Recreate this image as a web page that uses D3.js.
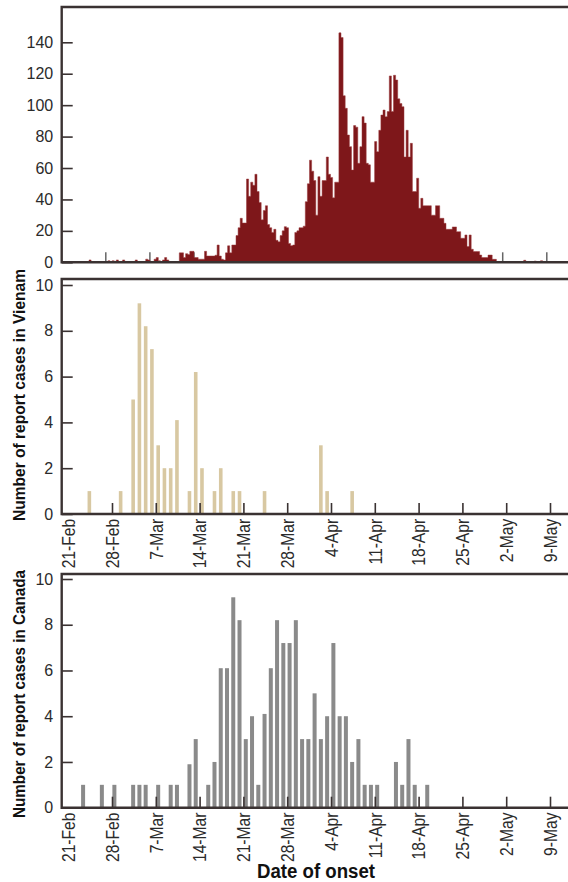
<!DOCTYPE html>
<html>
<head>
<meta charset="utf-8">
<script src="https://cdn.jsdelivr.net/npm/d3@7"></script>
<style>
body{margin:0;background:#fff;}
svg{display:block;}
</style>
</head>
<body>
<div id="visOut"></div>
<script>
// counts for top panel, one value per narrow bin (3 bins per week-tick step of 7)
var topCounts = [
 0,0,0,0,0,0,0,0,0,0,0,0,0,1.5,0,0,0,0,0,0,
 0,0,1,0,1,0,1.5,0,0,1.5,0,0,0,0,0,1.5,0,0,0,0,
 2,1.5,0,0,2,3,1,0,1.5,3,1.5,0,0,0,0,0,6,6,3,5.5,
 5,7,7,3,3,2,2,2,7,4,4,4,4,4.5,11,4,2,1.5,6,10.5,
 6,11,11,17,22,28,25,25,53,42,51,49,56,45,38,27,33,36,24,22,
 19,21,14,13,17,20,22.7,22,12,10.6,11,19,20,22,22,23,38.6,50,65,58,
 52,30,54.5,42,52,52,67,56,54,41,51,51,146,143,106,98,81,73.6,58.7,87,
 86,63,73.6,92.7,88.6,63,62,51,51,76.8,70.4,84,93.7,96.9,92.7,95.9,118.6,96,119,116,
 104,101,99,67,84,67,75.7,45,45,53.5,34.4,40.7,36,36,36,36,30,30,36,36,
 28,28,24.8,21,21,21,22.5,22.5,19.5,19.5,15.3,15.3,17.4,10,17.4,8.3,6.8,6.8,6.8,4.6,
 3,3,3,4.6,4.6,1.9,1.9,0.5,0,0,0,0,0,0,0,0,0,0,0,0,
 1.3,0,0,0,0,0.8,0,0,1,0,0,0,0,0,0,0,0,0,0,0,
 0,0,0
];
var topTicksY = [0,20,40,60,80,100,120,140];

var vnDates = ["24-Feb","1-Mar","3-Mar","4-Mar","5-Mar","6-Mar","7-Mar","8-Mar","9-Mar","10-Mar",
  "12-Mar","13-Mar","14-Mar","16-Mar","17-Mar","19-Mar","20-Mar","24-Mar","2-Apr","3-Apr","7-Apr"];
var vnCases = [1,1,5,9.2,8.2,7.2,3,2,2,4.1,1,6.2,2,1,2,1,1,1,3,1,1];

var caDates = ["23-Feb","26-Feb","28-Feb","3-Mar","4-Mar","5-Mar","7-Mar","9-Mar","10-Mar","12-Mar",
  "13-Mar","15-Mar","16-Mar","17-Mar","18-Mar","19-Mar","20-Mar","21-Mar","22-Mar","23-Mar",
  "24-Mar","25-Mar","26-Mar","27-Mar","28-Mar","29-Mar","30-Mar","31-Mar","1-Apr","2-Apr",
  "3-Apr","4-Apr","5-Apr","6-Apr","7-Apr","8-Apr","9-Apr","10-Apr","11-Apr","14-Apr",
  "15-Apr","16-Apr","17-Apr","19-Apr"];
var caCases = [1,1,1,1,1,1,1,1,1,1.9,3,1,2,6.1,6.1,9.2,8.2,3,4,1,4.1,6.1,8.2,7.2,7.2,8.2,
  3,3,5,3,4,7.2,4,4,2,3,1,1,1,2,1,3,1,1];

var smallTicksY = [0,2,4,6,8,10];
var tickLabels = ["21-Feb","28-Feb","7-Mar","14-Mar","21-Mar","28-Mar","4-Apr","11-Apr",
  "18-Apr","25-Apr","2-May","9-May"];

var parseDay = function(s){ return d3.timeParse("%d-%b-%Y")(s + "-2003"); };

var width = 568, height = 882;
var left = 61.7, right = 574;
var frameCol = "#3a3232", textCol = "#2b2b2b";
var font = "'Liberation Sans', Arial, sans-serif";

var svg = d3.select("#visOut")
    .append("svg")
    .attr("width", width)
    .attr("height", height)
    .attr("xmlns", "http://www.w3.org/2000/svg");

// shared date scale for the two lower panels
var x = d3.scaleTime()
    .domain([parseDay("21-Feb"), parseDay("9-May")])
    .range([68.2, 550]);
var dayW = x(parseDay("22-Feb")) - x(parseDay("21-Feb"));

function frame(top, base){ //box with left, top and bottom edge
    svg.append("path")
        .attr("d", "M" + right + "," + top + "H" + left + "V" + base + "H" + right)
        .attr("fill", "none")
        .attr("stroke", frameCol)
        .attr("stroke-width", 2.4);
}

function yAxis(y, ticks){
    var g = svg.append("g")
        .attr("transform", "translate(" + left + ",0)")
        .call(d3.axisLeft(y).tickValues(ticks).tickSize(-11).tickPadding(8.5));
    g.select(".domain").remove();
    g.selectAll(".tick line").attr("stroke", frameCol).attr("stroke-width", 1.6);
    g.selectAll("text").attr("fill", textCol).style("font-family", font).style("font-size", "16px");
}

function xAxis(base){
    var g = svg.append("g")
        .attr("transform", "translate(0," + base + ")")
        .call(d3.axisBottom(x)
            .tickValues(tickLabels.map(parseDay))
            .tickSize(-11)
            .tickFormat(d3.timeFormat("%-d-%b")));
    g.select(".domain").remove();
    g.selectAll(".tick line")
        .attr("stroke", frameCol)
        .attr("stroke-width", 1.6)
        .attr("opacity", function(d, i){ return i == 0 ? 0 : 1; }); //first one sits on the frame
    g.selectAll("text")
        .attr("x", -5.5)
        .attr("y", 0)
        .attr("dy", "0.35em")
        .attr("transform", "rotate(-90) scale(0.87,1)")
        .style("text-anchor", "end")
        .attr("fill", textCol)
        .style("font-family", font)
        .style("font-size", "18px");
}

function bars(dates, vals, y, col, bw){
    svg.append("g").selectAll("rect")
        .data(vals)
        .enter()
        .append("rect")
        .attr("x", function(d, i){ return x(parseDay(dates[i])) + dayW * 0.38 - bw / 2; })
        .attr("width", bw)
        .attr("y", function(d){ return y(d); })
        .attr("height", function(d){ return y(0) - y(d); })
        .attr("fill", col);
}

// ---- top panel ----
var xTop = d3.scaleLinear().domain([0, 243]).range([left, left + 243 * 2.1]);
var yTop = d3.scaleLinear().domain([0, 140]).range([262.3, 42.3]);

svg.append("g").selectAll("line") //small ticks, hidden behind bars
    .data(d3.range(21, 243, 21))
    .enter()
    .append("line")
    .attr("x1", function(d){ return xTop(d); })
    .attr("x2", function(d){ return xTop(d); })
    .attr("y1", yTop(0))
    .attr("y2", yTop(0) - 10)
    .attr("stroke", "#666")
    .attr("stroke-width", 1.5);

// histogram as one stepped area so bars have no seams
var topPts = topCounts.map(function(v, i){ return {i: i, v: v}; });
topPts.push({i: topCounts.length, v: 0});
var topArea = d3.area()
    .curve(d3.curveStepAfter)
    .x(function(d){ return xTop(d.i); })
    .y0(yTop(0))
    .y1(function(d){ return yTop(d.v); });
svg.append("path")
    .datum(topPts)
    .attr("d", topArea)
    .attr("fill", "#7e171a")
    .attr("stroke", "#9a3a3c")
    .attr("stroke-width", 0.5);

yAxis(yTop, topTicksY);
frame(7, 262.3);

// ---- Vietnam panel ----
var yVn = d3.scaleLinear().domain([0, 10]).range([514, 285]);
bars(vnDates, vnCases, yVn, "#d8c8a2", 3.6);
yAxis(yVn, smallTicksY);
xAxis(514);
frame(279, 514);

// ---- Canada panel ----
var yCa = d3.scaleLinear().domain([0, 10]).range([807.7, 579]);
bars(caDates, caCases, yCa, "#8a8a8a", 4);
yAxis(yCa, smallTicksY);
xAxis(807.7);
frame(574, 807.7);

// axis titles
function vTitle(txt, cy, len){
    svg.append("text")
        .attr("transform", "translate(24.5," + cy + ") rotate(-90)")
        .attr("text-anchor", "middle")
        .attr("textLength", len)
        .attr("lengthAdjust", "spacingAndGlyphs")
        .attr("fill", "#111")
        .style("font-family", font)
        .style("font-weight", "bold")
        .style("font-size", "17px")
        .text(txt);
}
vTitle("Number of report cases in Vienam", 395, 252);
vTitle("Number of report cases in Canada", 694, 248);

svg.append("text")
    .attr("x", 316)
    .attr("y", 878)
    .attr("text-anchor", "middle")
    .attr("textLength", 118)
    .attr("lengthAdjust", "spacingAndGlyphs")
    .attr("fill", "#111")
    .style("font-family", font)
    .style("font-weight", "bold")
    .style("font-size", "20px")
    .text("Date of onset");
</script>
</body>
</html>
